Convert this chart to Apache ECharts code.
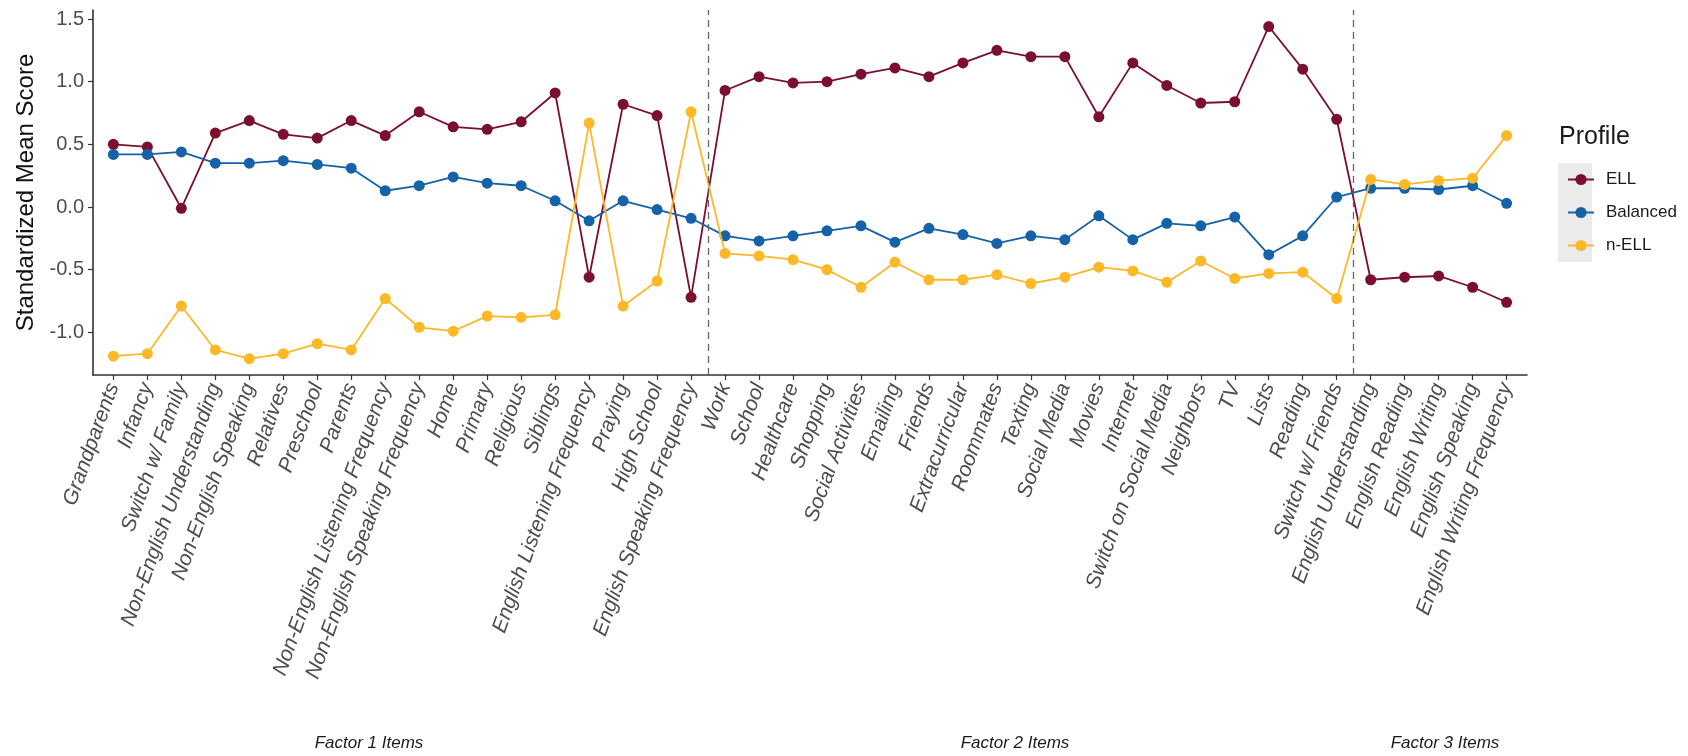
<!DOCTYPE html>
<html>
<head>
<meta charset="utf-8">
<script src="https://cdn.jsdelivr.net/npm/echarts@6/dist/echarts.min.js"></script>
<style>
  html, body { margin: 0; padding: 0; background: #ffffff; }
  #chart { width: 1688px; height: 756px; }
</style>
</head>
<body>
<div id="chart"></div>
<script>
// Survey items, grouped by factor (1: items 0-17, 2: items 18-36, 3: items 37-41)
const categories = [
  'Grandparents', 'Infancy', 'Switch w/ Family', 'Non-English Understanding',
  'Non-English Speaking', 'Relatives', 'Preschool', 'Parents',
  'Non-English Listening Frequency', 'Non-English Speaking Frequency', 'Home',
  'Primary', 'Religious', 'Siblings', 'English Listening Frequency', 'Praying',
  'High School', 'English Speaking Frequency',
  'Work', 'School', 'Healthcare', 'Shopping', 'Social Activities', 'Emailing',
  'Friends', 'Extracurricular', 'Roommates', 'Texting', 'Social Media', 'Movies',
  'Internet', 'Switch on Social Media', 'Neighbors', 'TV', 'Lists', 'Reading',
  'Switch w/ Friends',
  'English Understanding', 'English Reading', 'English Writing',
  'English Speaking', 'English Writing Frequency'
];

// Standardized mean scores per latent profile
const ellScores = [
  0.50, 0.48, -0.01, 0.59, 0.69, 0.58, 0.55, 0.69, 0.57, 0.76, 0.64, 0.62,
  0.68, 0.91, -0.56, 0.82, 0.73, -0.72,
  0.93, 1.04, 0.99, 1.00, 1.06, 1.11, 1.04, 1.15, 1.25, 1.20, 1.20, 0.72,
  1.15, 0.97, 0.83, 0.84, 1.44, 1.10, 0.70,
  -0.58, -0.56, -0.55, -0.64, -0.76
];
const balancedScores = [
  0.42, 0.42, 0.44, 0.35, 0.35, 0.37, 0.34, 0.31, 0.13, 0.17, 0.24, 0.19,
  0.17, 0.05, -0.11, 0.05, -0.02, -0.09,
  -0.23, -0.27, -0.23, -0.19, -0.15, -0.28, -0.17, -0.22, -0.29, -0.23,
  -0.26, -0.07, -0.26, -0.13, -0.15, -0.08, -0.38, -0.23, 0.08,
  0.15, 0.15, 0.14, 0.17, 0.03
];
const nEllScores = [
  -1.19, -1.17, -0.79, -1.14, -1.21, -1.17, -1.09, -1.14, -0.73, -0.96, -0.99,
  -0.87, -0.88, -0.86, 0.67, -0.79, -0.59, 0.76,
  -0.37, -0.39, -0.42, -0.50, -0.64, -0.44, -0.58, -0.58, -0.54, -0.61,
  -0.56, -0.48, -0.51, -0.60, -0.43, -0.57, -0.53, -0.52, -0.73,
  0.22, 0.18, 0.21, 0.23, 0.57
];

const profileNames = ['ELL', 'Balanced', 'n-ELL'];
const profileColors = ['#7a0f2f', '#1562a8', '#fdb827'];
const yTickValues = [-1.0, -0.5, 0.0, 0.5, 1.0, 1.5];
// Boundaries between factor groups, in item-index units
const factorBreaks = [17.5, 36.5];
const factorTitles = ['Factor 1 Items', 'Factor 2 Items', 'Factor 3 Items'];

const FONT = '"Liberation Sans", Arial, Helvetica, sans-serif';
const itemIndex = categories.map((_, i) => i);

function toPoints(values) {
  return values.map((v, i) => [i, v]);
}

const seriesValues = [ellScores, balancedScores, nEllScores];
const series = seriesValues.map((vals, k) => ({
  name: profileNames[k],
  type: 'line',
  data: toPoints(vals),
  symbol: 'circle',
  symbolSize: 11,
  itemStyle: { color: profileColors[k] },
  lineStyle: { color: profileColors[k], width: 1.8 },
  emphasis: { disabled: true },
  animation: false,
  z: 2 + k
}));

series[0].markLine = {
  silent: true,
  symbol: ['none', 'none'],
  label: { show: false },
  lineStyle: { color: '#666666', type: [7, 5], width: 1.3 },
  data: factorBreaks.map(x => ({ xAxis: x })),
  animation: false
};

const chart = echarts.init(document.getElementById('chart'), null, { renderer: 'canvas' });

// Factor group captions below the rotated item labels
const factorCaptions = factorTitles.map((t, i) => ({
  type: 'text',
  x: [369, 1015, 1445][i],
  y: 743,
  style: {
    text: t, fontSize: 17, fontStyle: 'italic', fill: '#1a1a1a',
    fontFamily: FONT, align: 'center', verticalAlign: 'middle'
  },
  silent: true
}));

const option = {
  backgroundColor: '#ffffff',
  animation: false,
  textStyle: { fontFamily: FONT },
  grid: { left: 93, right: 161, top: 10, bottom: 381, containLabel: false },
  xAxis: {
    type: 'value',
    min: -0.6,
    max: categories.length - 1 + 0.6,
    splitLine: { show: false },
    axisLine: { show: true, onZero: false, lineStyle: { color: '#333333', width: 1.6 } },
    axisTick: { show: true, length: 5, lineStyle: { color: '#333333', width: 1.2 }, customValues: itemIndex },
    axisLabel: {
      customValues: itemIndex,
      rotate: 70,
      margin: 9,
      fontSize: 21,
      fontStyle: 'italic',
      color: '#4d4d4d',
      fontFamily: FONT,
      formatter: v => categories[Math.round(v)]
    }
  },
  yAxis: {
    type: 'value',
    min: -1.34,
    max: 1.572,
    splitLine: { show: false },
    name: 'Standardized Mean Score',
    nameLocation: 'middle',
    nameGap: 55,
    nameTextStyle: { fontSize: 24, color: '#111111', fontFamily: FONT },
    axisLine: { show: true, onZero: false, lineStyle: { color: '#333333', width: 1.6 } },
    axisTick: { show: true, length: 5, lineStyle: { color: '#333333', width: 1.2 }, customValues: yTickValues },
    axisLabel: {
      customValues: yTickValues,
      margin: 9,
      fontSize: 20,
      color: '#4d4d4d',
      fontFamily: FONT,
      formatter: v => v.toFixed(1)
    }
  },
  legend: {
    data: profileNames,
    orient: 'vertical',
    left: 1562,
    top: 166,
    itemWidth: 26,
    itemHeight: 14,
    itemGap: 16,
    selectedMode: false,
    textStyle: { fontSize: 17, color: '#1a1a1a', fontFamily: FONT, padding: [0, 0, 0, 7] }
  },
  graphic: [
    {
      type: 'rect',
      left: 1558, top: 163,
      shape: { width: 34, height: 99 },
      style: { fill: '#ebebeb' },
      z: -1, silent: true
    },
    {
      type: 'text',
      left: 1559, top: 125,
      style: { text: 'Profile', fontSize: 25, fill: '#1a1a1a', fontFamily: FONT },
      silent: true
    }
  ].concat(factorCaptions),
  series: series
};

chart.setOption(option);
</script>
</body>
</html>
